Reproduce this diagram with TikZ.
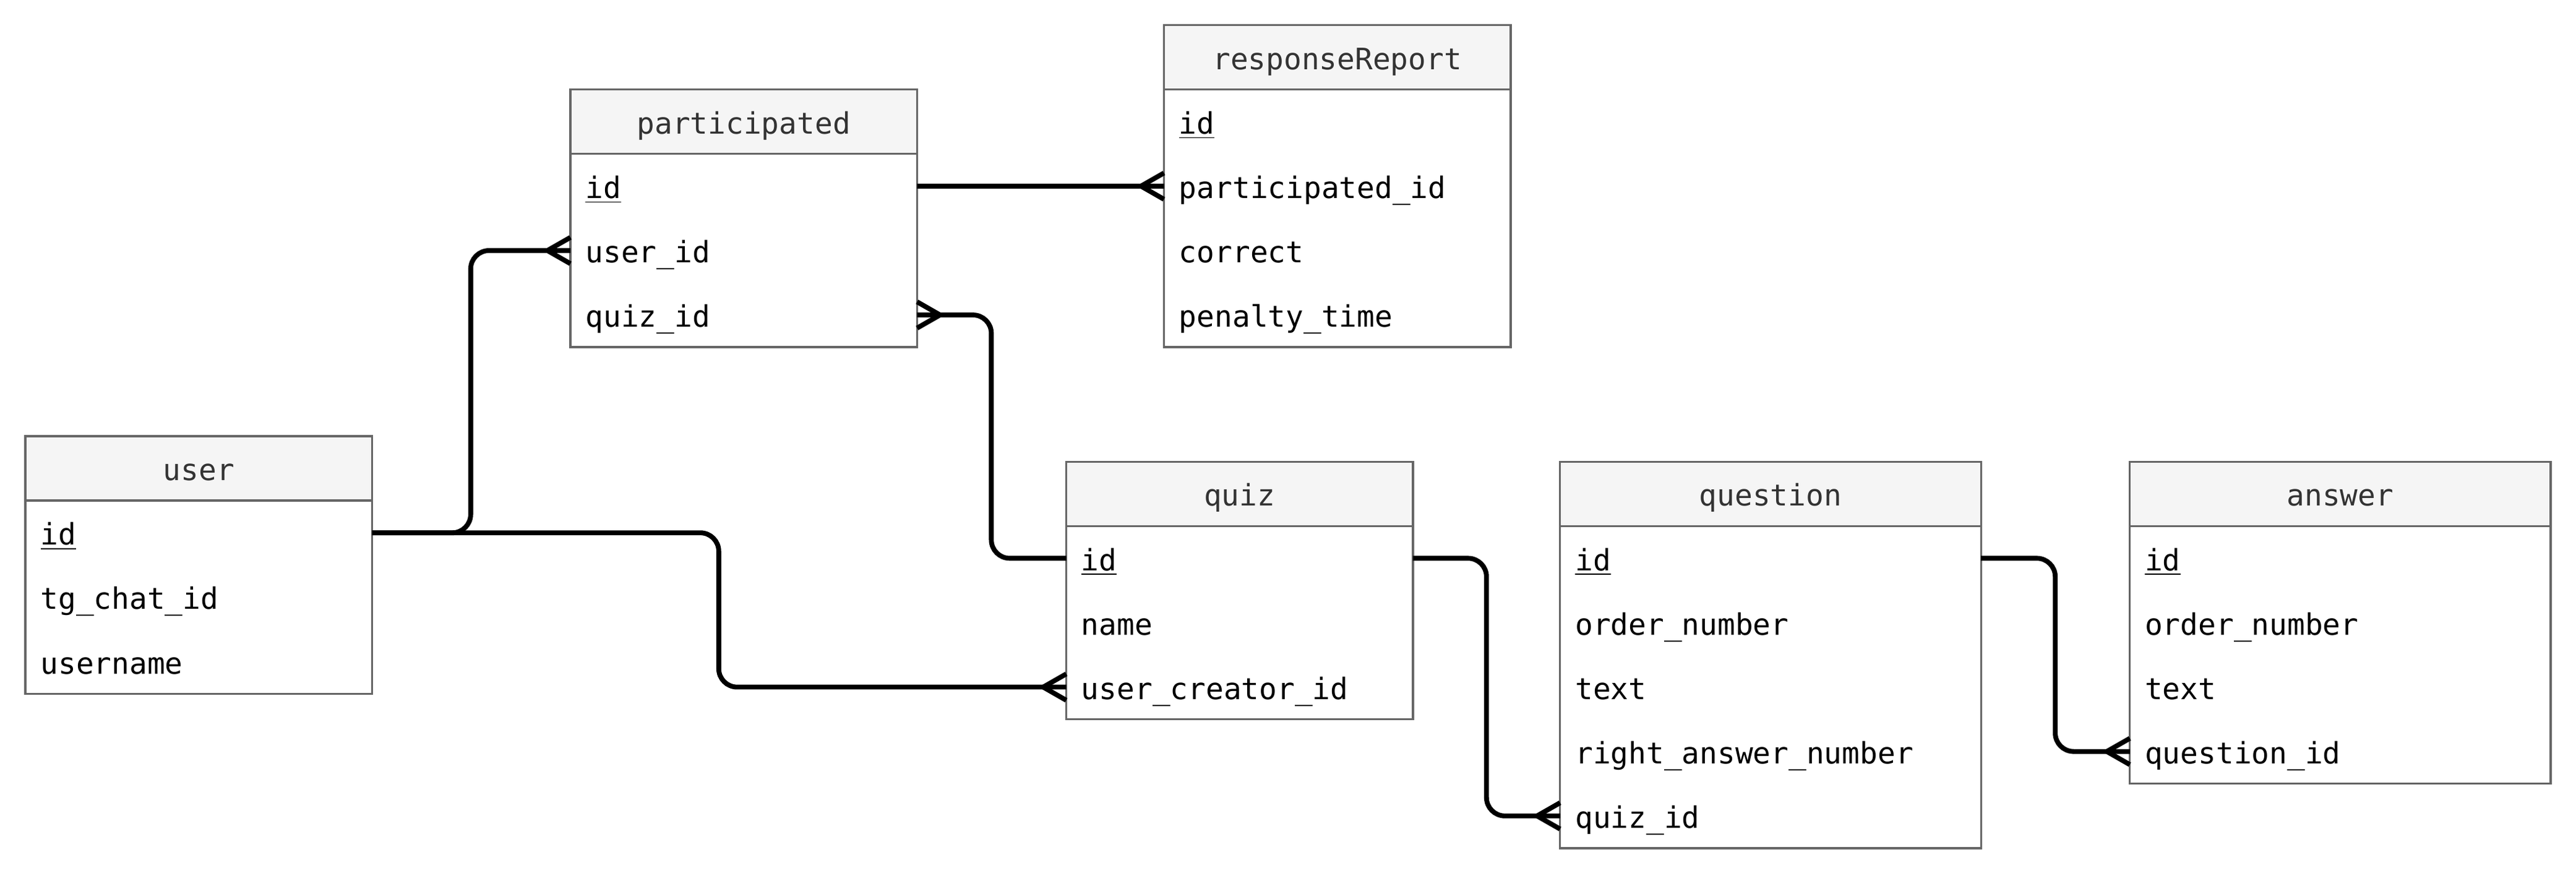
\documentclass[tikz,border=0pt]{standalone}
\usepackage{fontspec}
\setmonofont{DejaVu Sans Mono}
\usetikzlibrary{positioning}

\definecolor{edgegray}{HTML}{666666}
\definecolor{headfill}{HTML}{F5F5F5}
\definecolor{headtext}{HTML}{333333}

\tikzset{
  thead/.style={draw=edgegray, fill=headfill, text=headtext, line width=0.9pt, minimum width=#1, minimum height=0.98cm, inner sep=0pt, outer sep=0pt, text height=0.5cm, text depth=0.13cm, anchor=north west},
  trow/.style={text width=#1, minimum height=0.98cm, inner xsep=0.23cm, inner ysep=0pt, outer sep=0pt, align=left, text height=0.5cm, text depth=0.13cm},
  tframe/.style={draw=edgegray, line width=0.9pt},
  link/.style={draw=black, line width=2.1pt, rounded corners=0.28cm},
  crow/.pic={\draw[line width=2.1pt] (-0.35,0) -- (0,0.2) (-0.35,0) -- (0,-0.2);}
}

\begin{document}
\begin{tikzpicture}[font=\ttfamily\fontsize{12.8}{15}\selectfont]
    \useasboundingbox (0,0) rectangle (39.2,-13.405);

    % Tables
    \node[thead=5.275cm] (user-h) at (0.3875,-6.6375) {user};
    \node[trow=4.815cm, below=0pt of user-h] (user-id) {\underline{id}};
    \node[trow=4.815cm, below=0pt of user-id] (user-tg) {tg\_chat\_id};
    \node[trow=4.815cm, below=0pt of user-tg] (user-un) {username};
    \draw[tframe] (user-h.south west) rectangle (user-un.south east);

    \node[thead=5.275cm] (part-h) at (8.68,-1.3625) {participated};
    \node[trow=4.815cm, below=0pt of part-h] (part-id) {\underline{id}};
    \node[trow=4.815cm, below=0pt of part-id] (part-uid) {user\_id};
    \node[trow=4.815cm, below=0pt of part-uid] (part-qid) {quiz\_id};
    \draw[tframe] (part-h.south west) rectangle (part-qid.south east);

    \node[thead=5.275cm] (rr-h) at (17.7125,-0.3825) {responseReport};
    \node[trow=4.815cm, below=0pt of rr-h] (rr-id) {\underline{id}};
    \node[trow=4.815cm, below=0pt of rr-id] (rr-pid) {participated\_id};
    \node[trow=4.815cm, below=0pt of rr-pid] (rr-cor) {correct};
    \node[trow=4.815cm, below=0pt of rr-cor] (rr-pen) {penalty\_time};
    \draw[tframe] (rr-h.south west) rectangle (rr-pen.south east);

    \node[thead=5.275cm] (quiz-h) at (16.225,-7.025) {quiz};
    \node[trow=4.815cm, below=0pt of quiz-h] (quiz-id) {\underline{id}};
    \node[trow=4.815cm, below=0pt of quiz-id] (quiz-nm) {name};
    \node[trow=4.815cm, below=0pt of quiz-nm] (quiz-uc) {user\_creator\_id};
    \draw[tframe] (quiz-h.south west) rectangle (quiz-uc.south east);

    \node[thead=6.405cm] (qst-h) at (23.74,-7.025) {question};
    \node[trow=5.945cm, below=0pt of qst-h] (qst-id) {\underline{id}};
    \node[trow=5.945cm, below=0pt of qst-id] (qst-on) {order\_number};
    \node[trow=5.945cm, below=0pt of qst-on] (qst-tx) {text};
    \node[trow=5.945cm, below=0pt of qst-tx] (qst-ran) {right\_answer\_number};
    \node[trow=5.945cm, below=0pt of qst-ran] (qst-qid) {quiz\_id};
    \draw[tframe] (qst-h.south west) rectangle (qst-qid.south east);

    \node[thead=6.405cm] (ans-h) at (32.41,-7.025) {answer};
    \node[trow=5.945cm, below=0pt of ans-h] (ans-id) {\underline{id}};
    \node[trow=5.945cm, below=0pt of ans-id] (ans-on) {order\_number};
    \node[trow=5.945cm, below=0pt of ans-on] (ans-tx) {text};
    \node[trow=5.945cm, below=0pt of ans-tx] (ans-qid) {question\_id};
    \draw[tframe] (ans-h.south west) rectangle (ans-qid.south east);

    % Relations
    \draw[link] (user-id.east) -- ++(1.5,0) |- (part-uid.west);
    \draw[link] (user-id.east) -- ++(5.275,0) |- (quiz-uc.west);
    \draw[link] (part-id.east) -- (rr-pid.west);
    \draw[link] (quiz-id.west) -- ++(-1.14,0) |- (part-qid.east);
    \draw[link] (quiz-id.east) -- ++(1.12,0) |- (qst-qid.west);
    \draw[link] (qst-id.east) -- ++(1.13,0) |- (ans-qid.west);

    % Many ends
    \pic at (part-uid.west) {crow};
    \pic at (quiz-uc.west) {crow};
    \pic at (rr-pid.west) {crow};
    \pic[xscale=-1] at (part-qid.east) {crow};
    \pic at (qst-qid.west) {crow};
    \pic at (ans-qid.west) {crow};
\end{tikzpicture}
\end{document}
